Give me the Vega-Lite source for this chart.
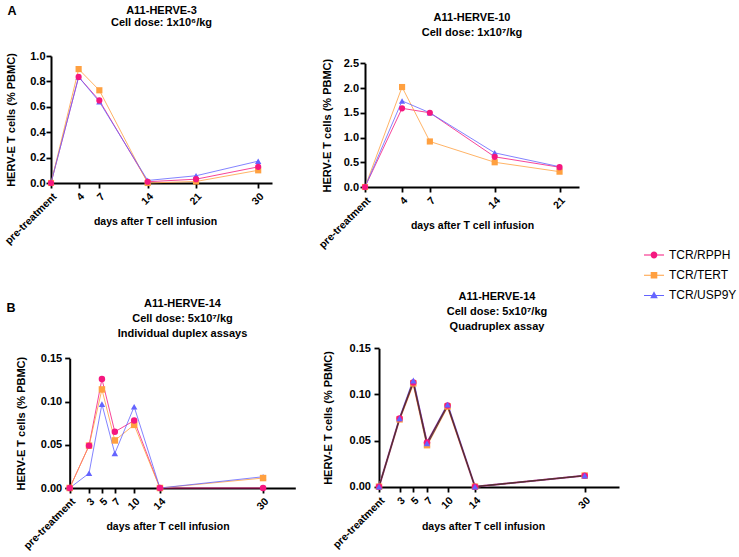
{
  "$schema": "https://vega.github.io/schema/vega-lite/v6.json",
  "background": "white",
  "padding": {"left": 3, "top": 5, "right": 0, "bottom": 0},
  "columns": 2,
  "bounds": "flush",
  "spacing": {"row": 161, "column": 69},
  "datasets": {
    "p1": [
      {"day": 0, "value": 0, "series": "TCR/RPPH"},
      {"day": 4, "value": 0.835, "series": "TCR/RPPH"},
      {"day": 7, "value": 0.65, "series": "TCR/RPPH"},
      {"day": 14, "value": 0.01, "series": "TCR/RPPH"},
      {"day": 21, "value": 0.03, "series": "TCR/RPPH"},
      {"day": 30, "value": 0.127, "series": "TCR/RPPH"},
      {"day": 0, "value": 0, "series": "TCR/TERT"},
      {"day": 4, "value": 0.897, "series": "TCR/TERT"},
      {"day": 7, "value": 0.73, "series": "TCR/TERT"},
      {"day": 14, "value": 0.0, "series": "TCR/TERT"},
      {"day": 21, "value": 0.012, "series": "TCR/TERT"},
      {"day": 30, "value": 0.1, "series": "TCR/TERT"},
      {"day": 0, "value": 0, "series": "TCR/USP9Y"},
      {"day": 4, "value": 0.835, "series": "TCR/USP9Y"},
      {"day": 7, "value": 0.64, "series": "TCR/USP9Y"},
      {"day": 14, "value": 0.02, "series": "TCR/USP9Y"},
      {"day": 21, "value": 0.057, "series": "TCR/USP9Y"},
      {"day": 30, "value": 0.172, "series": "TCR/USP9Y"}
    ],
    "p2": [
      {"day": 0, "value": 0, "series": "TCR/RPPH"},
      {"day": 4, "value": 1.59, "series": "TCR/RPPH"},
      {"day": 7, "value": 1.5, "series": "TCR/RPPH"},
      {"day": 14, "value": 0.61, "series": "TCR/RPPH"},
      {"day": 21, "value": 0.4, "series": "TCR/RPPH"},
      {"day": 0, "value": 0, "series": "TCR/TERT"},
      {"day": 4, "value": 2.02, "series": "TCR/TERT"},
      {"day": 7, "value": 0.92, "series": "TCR/TERT"},
      {"day": 14, "value": 0.5, "series": "TCR/TERT"},
      {"day": 21, "value": 0.31, "series": "TCR/TERT"},
      {"day": 0, "value": 0, "series": "TCR/USP9Y"},
      {"day": 4, "value": 1.74, "series": "TCR/USP9Y"},
      {"day": 7, "value": 1.5, "series": "TCR/USP9Y"},
      {"day": 14, "value": 0.69, "series": "TCR/USP9Y"},
      {"day": 21, "value": 0.41, "series": "TCR/USP9Y"}
    ],
    "p3": [
      {"day": 0, "value": 0, "series": "TCR/RPPH"},
      {"day": 3, "value": 0.049, "series": "TCR/RPPH"},
      {"day": 5, "value": 0.126, "series": "TCR/RPPH"},
      {"day": 7, "value": 0.065, "series": "TCR/RPPH"},
      {"day": 10, "value": 0.078, "series": "TCR/RPPH"},
      {"day": 14, "value": 0, "series": "TCR/RPPH"},
      {"day": 30, "value": 0, "series": "TCR/RPPH"},
      {"day": 0, "value": 0, "series": "TCR/TERT"},
      {"day": 3, "value": 0.049, "series": "TCR/TERT"},
      {"day": 5, "value": 0.114, "series": "TCR/TERT"},
      {"day": 7, "value": 0.055, "series": "TCR/TERT"},
      {"day": 10, "value": 0.073, "series": "TCR/TERT"},
      {"day": 14, "value": 0, "series": "TCR/TERT"},
      {"day": 30, "value": 0.0115, "series": "TCR/TERT"},
      {"day": 0, "value": 0, "series": "TCR/USP9Y"},
      {"day": 3, "value": 0.017, "series": "TCR/USP9Y"},
      {"day": 5, "value": 0.097, "series": "TCR/USP9Y"},
      {"day": 7, "value": 0.04, "series": "TCR/USP9Y"},
      {"day": 10, "value": 0.094, "series": "TCR/USP9Y"},
      {"day": 14, "value": 0, "series": "TCR/USP9Y"},
      {"day": 30, "value": 0.013, "series": "TCR/USP9Y"}
    ],
    "p4": [
      {"day": 0, "value": 0, "series": "TCR/RPPH"},
      {"day": 3, "value": 0.074, "series": "TCR/RPPH"},
      {"day": 5, "value": 0.113, "series": "TCR/RPPH"},
      {"day": 7, "value": 0.048, "series": "TCR/RPPH"},
      {"day": 10, "value": 0.088, "series": "TCR/RPPH"},
      {"day": 14, "value": 0, "series": "TCR/RPPH"},
      {"day": 30, "value": 0.012, "series": "TCR/RPPH"},
      {"day": 0, "value": 0, "series": "TCR/TERT"},
      {"day": 3, "value": 0.073, "series": "TCR/TERT"},
      {"day": 5, "value": 0.112, "series": "TCR/TERT"},
      {"day": 7, "value": 0.045, "series": "TCR/TERT"},
      {"day": 10, "value": 0.087, "series": "TCR/TERT"},
      {"day": 14, "value": 0, "series": "TCR/TERT"},
      {"day": 30, "value": 0.012, "series": "TCR/TERT"},
      {"day": 0, "value": 0, "series": "TCR/USP9Y"},
      {"day": 3, "value": 0.074, "series": "TCR/USP9Y"},
      {"day": 5, "value": 0.115, "series": "TCR/USP9Y"},
      {"day": 7, "value": 0.047, "series": "TCR/USP9Y"},
      {"day": 10, "value": 0.089, "series": "TCR/USP9Y"},
      {"day": 14, "value": 0, "series": "TCR/USP9Y"},
      {"day": 30, "value": 0.012, "series": "TCR/USP9Y"}
    ]
  },
  "concat": [
    {
      "width": 221, "height": 127,
      "title": {"text": ["A11-HERVE-3", "Cell dose: 1x10⁶/kg"], "lineHeight": 12, "offset": -23, "dx": 0},
      "data": {"name": "p1"},
      "encoding": {
        "x": {"field": "day", "type": "quantitative", "scale": {"domain": [0, 32], "nice": false, "zero": false},
          "axis": {"values": [0, 4, 7, 14, 21, 30], "labelExpr": "datum.value == 0 ? 'pre-treatment' : datum.label", "title": "days after T cell infusion", "titleX": 104, "titleY": 38}},
        "y": {"field": "value", "type": "quantitative", "scale": {"domain": [0, 1], "nice": false},
          "axis": {"values": [0, 0.2, 0.4, 0.6, 0.8, 1], "format": ".1f", "title": "HERV-E T cells (% PBMC)", "titlePadding": 13, "labelPadding": 1}}
      },
      "layer": [
        {"mark": {"type": "line", "strokeWidth": 1, "opacity": 0.8},
          "encoding": {"color": {"field": "series", "type": "nominal", "legend": null, "scale": {"domain": ["TCR/USP9Y", "TCR/TERT", "TCR/RPPH"], "range": ["#6464ff", "#ffa040", "#f5177f"]}}}},
        {"transform": [{"filter": "datum.series == 'TCR/USP9Y'"}], "mark": {"type": "point", "filled": true, "shape": "triangle-up", "size": 40, "opacity": 1},
          "encoding": {"color": {"field": "series", "type": "nominal", "legend": null}}},
        {"transform": [{"filter": "datum.series == 'TCR/TERT'"}], "mark": {"type": "point", "filled": true, "shape": "square", "size": 38, "opacity": 1},
          "encoding": {"color": {"field": "series", "type": "nominal", "legend": null}}},
        {"transform": [{"filter": "datum.series == 'TCR/RPPH'"}], "mark": {"type": "point", "filled": true, "shape": "circle", "size": 38, "opacity": 1},
          "encoding": {"color": {"field": "series", "type": "nominal", "legend": null}}},
        {"transform": [{"filter": "datum.day == 0 && datum.series == 'TCR/RPPH'"}], "mark": {"type": "text", "text": "A", "fontSize": 12.5, "fontWeight": "bold", "align": "center", "baseline": "middle", "color": "#000"},
          "encoding": {"x": {"datum": -5.65, "type": "quantitative"}, "y": {"datum": 1.354, "type": "quantitative"}}},
        {"transform": [{"filter": "datum.day < 0"}], "mark": {"type": "point", "filled": true, "opacity": 1},
          "encoding": {
            "fill": {"field": "series", "type": "nominal", "scale": {"domain": ["TCR/RPPH", "TCR/TERT", "TCR/USP9Y"], "range": ["#f5177f", "#ffa040", "#6464ff"]},
              "legend": {"title": null, "orient": "none", "legendX": 593, "legendY": 189, "symbolSize": 400, "labelFontSize": 12, "labelColor": "#000", "labelFontWeight": "normal", "rowPadding": 4.2, "labelOffset": 5, "padding": 0, "symbolStrokeWidth": 0}},
            "shape": {"field": "series", "type": "nominal", "scale": {"domain": ["TCR/RPPH", "TCR/TERT", "TCR/USP9Y"], "range": [
              "M-1,-0.05H-0.34V0.05H-1Z M0.34,-0.05H1V0.05H0.34Z M-0.34,0A0.34,0.34 0 1,0 0.34,0A0.34,0.34 0 1,0 -0.34,0Z",
              "M-1,-0.05H-0.33V0.05H-1Z M0.33,-0.05H1V0.05H0.33Z M-0.33,-0.33H0.33V0.33H-0.33Z",
              "M-1,-0.05H-0.22V0.05H-1Z M0.22,-0.05H1V0.05H0.22Z M0,-0.42L0.38,0.28H-0.38Z"
            ]}}
          }}
      ]
    },
    {
      "width": 214, "height": 131,
      "title": {"text": ["A11-HERVE-10", "Cell dose: 1x10⁷/kg"], "lineHeight": 15, "offset": 18},
      "data": {"name": "p2"},
      "encoding": {
        "x": {"field": "day", "type": "quantitative", "scale": {"domain": [0, 23.1], "nice": false, "zero": false},
          "axis": {"values": [0, 4, 7, 14, 21], "labelExpr": "datum.value == 0 ? 'pre-treatment' : datum.label", "title": "days after T cell infusion", "titleX": 107, "titleY": 38}},
        "y": {"field": "value", "type": "quantitative", "scale": {"domain": [0, 2.5], "nice": false, "range": [131, 7.3]},
          "axis": {"values": [0, 0.5, 1, 1.5, 2, 2.5], "format": ".1f", "title": "HERV-E T cells (% PBMC)", "titlePadding": 11, "labelPadding": 1.5}}
      },
      "layer": [
        {"mark": {"type": "line", "strokeWidth": 1, "opacity": 0.8},
          "encoding": {"color": {"field": "series", "type": "nominal", "legend": null}}},
        {"transform": [{"filter": "datum.series == 'TCR/USP9Y'"}], "mark": {"type": "point", "filled": true, "shape": "triangle-up", "size": 40, "opacity": 1},
          "encoding": {"color": {"field": "series", "type": "nominal", "legend": null}}},
        {"transform": [{"filter": "datum.series == 'TCR/TERT'"}], "mark": {"type": "point", "filled": true, "shape": "square", "size": 38, "opacity": 1},
          "encoding": {"color": {"field": "series", "type": "nominal", "legend": null}}},
        {"transform": [{"filter": "datum.series == 'TCR/RPPH'"}], "mark": {"type": "point", "filled": true, "shape": "circle", "size": 38, "opacity": 1},
          "encoding": {"color": {"field": "series", "type": "nominal", "legend": null}}}
      ]
    },
    {
      "width": 245, "height": 140,
      "title": {"text": ["A11-HERVE-14", "Cell dose: 5x10⁷/kg", "Individual duplex assays"], "lineHeight": 15, "offset": -37, "dx": 9},
      "data": {"name": "p3"},
      "encoding": {
        "x": {"field": "day", "type": "quantitative", "scale": {"domain": [0, 35], "nice": false, "zero": false, "range": [18.7, 244.3]},
          "axis": {"values": [0, 3, 5, 7, 10, 14, 30], "labelExpr": "datum.value == 0 ? 'pre-treatment' : datum.label", "title": "days after T cell infusion", "titleX": 116.5, "titleY": 38}},
        "y": {"field": "value", "type": "quantitative", "scale": {"domain": [0, 0.15], "nice": false, "range": [140, 10.3]},
          "axis": {"values": [0, 0.05, 0.1, 0.15], "format": ".2f", "title": "HERV-E T cells (% PBMC)", "titlePadding": 14, "labelPadding": 3, "offset": -18.7}}
      },
      "layer": [
        {"mark": {"type": "line", "strokeWidth": 1, "opacity": 0.8},
          "encoding": {"color": {"field": "series", "type": "nominal", "legend": null}}},
        {"transform": [{"filter": "datum.series == 'TCR/USP9Y'"}], "mark": {"type": "point", "filled": true, "shape": "triangle-up", "size": 42, "opacity": 1},
          "encoding": {"color": {"field": "series", "type": "nominal", "legend": null}}},
        {"transform": [{"filter": "datum.series == 'TCR/TERT'"}], "mark": {"type": "point", "filled": true, "shape": "square", "size": 42, "opacity": 1},
          "encoding": {"color": {"field": "series", "type": "nominal", "legend": null}}},
        {"transform": [{"filter": "datum.series == 'TCR/RPPH'"}], "mark": {"type": "point", "filled": true, "shape": "circle", "size": 42, "opacity": 1},
          "encoding": {"color": {"field": "series", "type": "nominal", "legend": null}}},
        {"transform": [{"filter": "datum.day == 0 && datum.series == 'TCR/RPPH'"}], "mark": {"type": "text", "text": "B", "fontSize": 12.5, "fontWeight": "bold", "align": "center", "baseline": "middle", "color": "#000"},
          "encoding": {"x": {"datum": -9.1, "type": "quantitative"}, "y": {"datum": 0.2083, "type": "quantitative"}}}
      ]
    },
    {
      "width": 254, "height": 139,
      "title": {"text": ["A11-HERVE-14", "Cell dose: 5x10⁷/kg", "Quadruplex assay"], "lineHeight": 15, "offset": 10, "dx": 5},
      "data": {"name": "p4"},
      "encoding": {
        "x": {"field": "day", "type": "quantitative", "scale": {"domain": [0, 35], "nice": false, "zero": false, "range": [14, 254]},
          "axis": {"values": [0, 3, 5, 7, 10, 14, 30], "labelExpr": "datum.value == 0 ? 'pre-treatment' : datum.label", "title": "days after T cell infusion", "titleX": 118, "titleY": 39}},
        "y": {"field": "value", "type": "quantitative", "scale": {"domain": [0, 0.15], "nice": false, "range": [138.7, 0.3]},
          "axis": {"values": [0, 0.05, 0.1, 0.15], "format": ".2f", "title": "HERV-E T cells (% PBMC)", "titlePadding": 16, "labelPadding": 3.5, "offset": -14}}
      },
      "layer": [
        {"mark": {"type": "line", "strokeWidth": 1.8, "opacity": 0.75},
          "encoding": {"color": {"field": "series", "type": "nominal", "legend": null}}},
        {"mark": {"type": "line", "strokeWidth": 0.8, "color": "#5a2a2a"},
          "encoding": {"detail": {"field": "series", "type": "nominal"}}},
        {"transform": [{"filter": "datum.series == 'TCR/TERT'"}], "mark": {"type": "point", "filled": true, "shape": "square", "size": 42, "opacity": 1},
          "encoding": {"color": {"field": "series", "type": "nominal", "legend": null}}},
        {"transform": [{"filter": "datum.series == 'TCR/RPPH'"}], "mark": {"type": "point", "filled": true, "shape": "circle", "size": 42, "opacity": 1},
          "encoding": {"color": {"field": "series", "type": "nominal", "legend": null}}},
        {"transform": [{"filter": "datum.series == 'TCR/USP9Y'"}], "mark": {"type": "point", "filled": true, "shape": "triangle-up", "size": 42, "opacity": 1},
          "encoding": {"color": {"field": "series", "type": "nominal", "legend": null}}}
      ]
    }
  ],
  "config": {
    "font": "Liberation Sans",
    "view": {"stroke": null},
    "axis": {
      "grid": false,
      "domainColor": "#000", "domainWidth": 2,
      "tickColor": "#000", "tickWidth": 1.8, "tickSize": 5,
      "labelColor": "#000", "labelFontWeight": "bold", "labelFontSize": 11, "labelFont": "Liberation Sans",
      "titleColor": "#000", "titleFontWeight": "bold", "titleFontSize": 11, "titleFont": "Liberation Sans",
      "labelOverlap": false, "labelFlush": false
    },
    "axisX": {"labelAngle": -45, "labelAlign": "right", "labelBaseline": "top", "labelFontSize": 10.5, "labelPadding": 3, "titleFontSize": 10.5, "titleBaseline": "middle"},
    "title": {"fontSize": 11, "fontWeight": "bold", "color": "#000", "font": "Liberation Sans", "anchor": "middle"},
    "legend": {"labelFont": "Liberation Sans"}
  }
}
